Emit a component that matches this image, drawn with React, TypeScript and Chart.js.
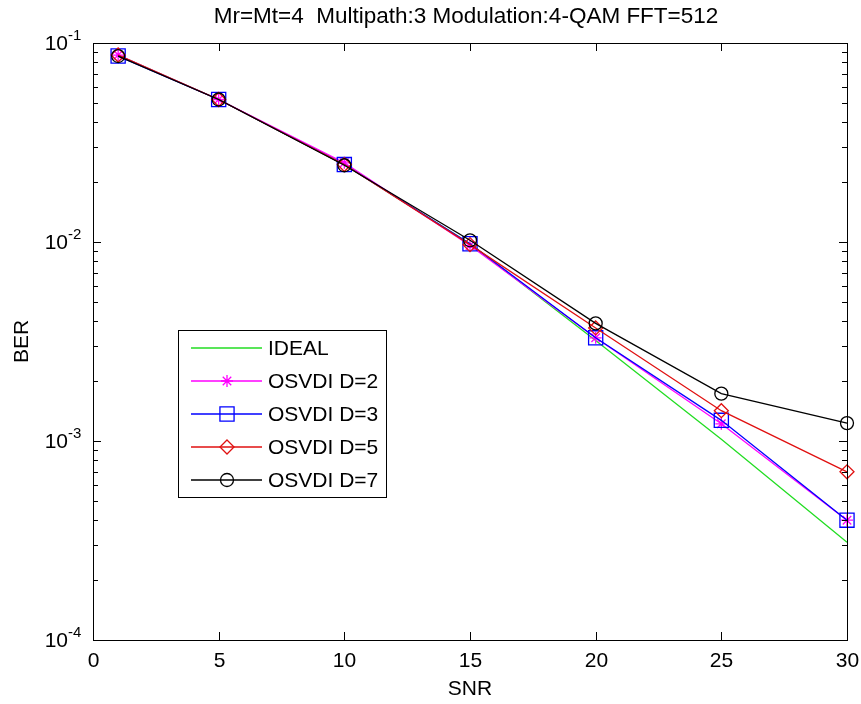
import React, { useEffect, useRef } from "react";
import { Chart, registerables } from "chart.js";

Chart.register(...registerables);

const snr = [1, 5, 10, 15, 20, 25, 30];
const ideal = [0.087, 0.052, 0.0245, 0.0098, 0.0032, 0.00102, 0.00031];
const osvdiD2 = [0.087, 0.052, 0.025, 0.0096, 0.0033, 0.00122, 0.0004];
const osvdiD3 = [0.086, 0.052, 0.0245, 0.0098, 0.0033, 0.00127, 0.0004];
const osvdiD5 = [0.087, 0.052, 0.0245, 0.0097, 0.0037, 0.00142, 0.0007];
const osvdiD7 = [0.086, 0.052, 0.0243, 0.0102, 0.0039, 0.00173, 0.00123];

const seriesNames = ["IDEAL", "OSVDI D=2", "OSVDI D=3", "OSVDI D=5", "OSVDI D=7"];
const seriesColors = ["#22dd22", "#ff00ff", "#0000ff", "#e01010", "#000000"];
const xTicks = [0, 5, 10, 15, 20, 25, 30];
const yDecades = [-4, -3, -2, -1];
const titleText = "Mr=Mt=4  Multipath:3 Modulation:4-QAM FFT=512";

const FONT = "'Liberation Sans', Arial, sans-serif";

const pts = (ys: number[]) => snr.map((x, i) => ({ x, y: ys[i] }));

function drawMarker(ctx: CanvasRenderingContext2D, style: string, r: number, x: number, y: number) {
  ctx.beginPath();
  if (style === "star") {
    ctx.moveTo(x - r, y); ctx.lineTo(x + r, y);
    ctx.moveTo(x, y - r); ctx.lineTo(x, y + r);
    const d = r * Math.SQRT1_2;
    ctx.moveTo(x - d, y - d); ctx.lineTo(x + d, y + d);
    ctx.moveTo(x - d, y + d); ctx.lineTo(x + d, y - d);
  } else if (style === "rect") {
    const s = r * Math.SQRT1_2;
    ctx.rect(x - s, y - s, 2 * s, 2 * s);
  } else if (style === "rectRot") {
    ctx.moveTo(x, y - r); ctx.lineTo(x + r, y); ctx.lineTo(x, y + r); ctx.lineTo(x - r, y); ctx.closePath();
  } else if (style === "circle") {
    ctx.arc(x, y, r, 0, Math.PI * 2);
  }
  ctx.stroke();
}

const decorPlugin = {
  id: "decor",
  afterDatasetsDraw(chart: any) {
    const { ctx, chartArea: a, scales } = chart;
    const xs = scales.x;
    const ys = scales.y;
    ctx.save();
    ctx.strokeStyle = "#000";
    ctx.lineWidth = 1;
    ctx.strokeRect(Math.round(a.left) + 0.5, Math.round(a.top) + 0.5, Math.round(a.right - a.left), Math.round(a.bottom - a.top));
    ctx.fillStyle = "#000";
    ctx.font = `21px ${FONT}`;
    ctx.textAlign = "center";
    ctx.textBaseline = "middle";
    for (const t of xTicks) {
      const px = Math.round(xs.getPixelForValue(t)) + 0.5;
      ctx.beginPath();
      ctx.moveTo(px, a.bottom);
      ctx.lineTo(px, a.bottom - 8);
      ctx.moveTo(px, a.top);
      ctx.lineTo(px, a.top + 8);
      ctx.stroke();
      ctx.fillText(String(t), px, a.bottom + 21);
    }
    for (const d of yDecades) {
      const py = Math.round(ys.getPixelForValue(Math.pow(10, d))) + 0.5;
      ctx.beginPath();
      ctx.moveTo(a.left, py);
      ctx.lineTo(a.left + 8, py);
      ctx.moveTo(a.right, py);
      ctx.lineTo(a.right - 8, py);
      ctx.stroke();
      if (d < -1) {
        for (let m = 2; m <= 9; m++) {
          const my = Math.round(ys.getPixelForValue(m * Math.pow(10, d))) + 0.5;
          ctx.beginPath();
          ctx.moveTo(a.left, my);
          ctx.lineTo(a.left + 5, my);
          ctx.moveTo(a.right, my);
          ctx.lineTo(a.right - 5, my);
          ctx.stroke();
        }
      }
      ctx.font = `21px ${FONT}`;
      ctx.textAlign = "right";
      ctx.textBaseline = "middle";
      ctx.fillText("10", a.left - 25, py + 1);
      ctx.font = `15px ${FONT}`;
      ctx.textAlign = "left";
      ctx.fillText(String(d), a.left - 25, py - 8);
    }
    ctx.font = `22.5px ${FONT}`;
    ctx.textAlign = "center";
    ctx.textBaseline = "middle";
    ctx.fillText(titleText, 466, 17);
    ctx.font = `21px ${FONT}`;
    ctx.fillText("SNR", (a.left + a.right) / 2, 689);
    ctx.save();
    ctx.translate(22, (a.top + a.bottom) / 2);
    ctx.rotate(-Math.PI / 2);
    ctx.fillText("BER", 0, 0);
    ctx.restore();
    // legend
    const lx = 178, ly = 330, rowH = 33;
    ctx.font = `21px ${FONT}`;
    let maxW = 0;
    for (const n of seriesNames) maxW = Math.max(maxW, ctx.measureText(n).width);
    const textX = 268;
    const boxW = Math.round(textX + maxW + 8 - lx);
    const boxH = rowH * seriesNames.length + 2;
    ctx.fillStyle = "#fff";
    ctx.fillRect(lx, ly, boxW, boxH);
    ctx.strokeStyle = "#000";
    ctx.lineWidth = 1;
    ctx.strokeRect(lx + 0.5, ly + 0.5, boxW, boxH);
    chart.data.datasets.forEach((ds: any, i: number) => {
      const y = ly + 18 + i * rowH;
      ctx.strokeStyle = ds.borderColor;
      ctx.lineWidth = 1.3;
      ctx.beginPath();
      ctx.moveTo(191, y);
      ctx.lineTo(262, y);
      ctx.stroke();
      if (ds.pointStyle && ds.pointRadius > 0) {
        drawMarker(ctx, ds.pointStyle, ds.pointRadius, 227, y);
      }
      ctx.fillStyle = "#000";
      ctx.textAlign = "left";
      ctx.textBaseline = "middle";
      ctx.fillText(seriesNames[i], textX, y + 1);
    });
    ctx.restore();
  },
};

export default function App() {
  const ref = useRef<HTMLCanvasElement>(null);
  useEffect(() => {
    if (!ref.current) return;
    const mk = (i: number, data: number[], style: any, radius: number, order: number) => ({
      label: seriesNames[i],
      data: pts(data),
      borderColor: seriesColors[i],
      backgroundColor: "rgba(0,0,0,0)",
      pointBackgroundColor: "rgba(0,0,0,0)",
      pointBorderColor: seriesColors[i],
      borderWidth: 1.3,
      pointBorderWidth: 1.3,
      pointStyle: style,
      pointRadius: radius,
      clip: false as any,
      order,
    });
    const chart = new Chart(ref.current, {
      type: "line",
      data: {
        datasets: [
          mk(0, ideal, false, 0, 4),
          mk(1, osvdiD2, "star", 6, 3),
          mk(2, osvdiD3, "rect", 10, 2),
          mk(3, osvdiD5, "rectRot", 7, 1),
          mk(4, osvdiD7, "circle", 6.5, 0),
        ],
      },
      options: {
        responsive: false,
        animation: false,
        layout: { padding: { left: 93, right: 14, top: 43, bottom: 64 } },
        scales: {
          x: { type: "linear", min: 0, max: 30, display: false },
          y: { type: "logarithmic", min: 1e-4, max: 1e-1, display: false },
        },
        plugins: { legend: { display: false }, tooltip: { enabled: false }, title: { display: false } },
        elements: { line: { tension: 0 } },
      },
      plugins: [decorPlugin],
    });
    return () => chart.destroy();
  }, []);
  return (
    <div style={{ position: "absolute", left: 0, top: 0, width: 861, height: 704, background: "#fff" }}>
      <canvas ref={ref} width={861} height={704} style={{ display: "block" }} />
    </div>
  );
}
